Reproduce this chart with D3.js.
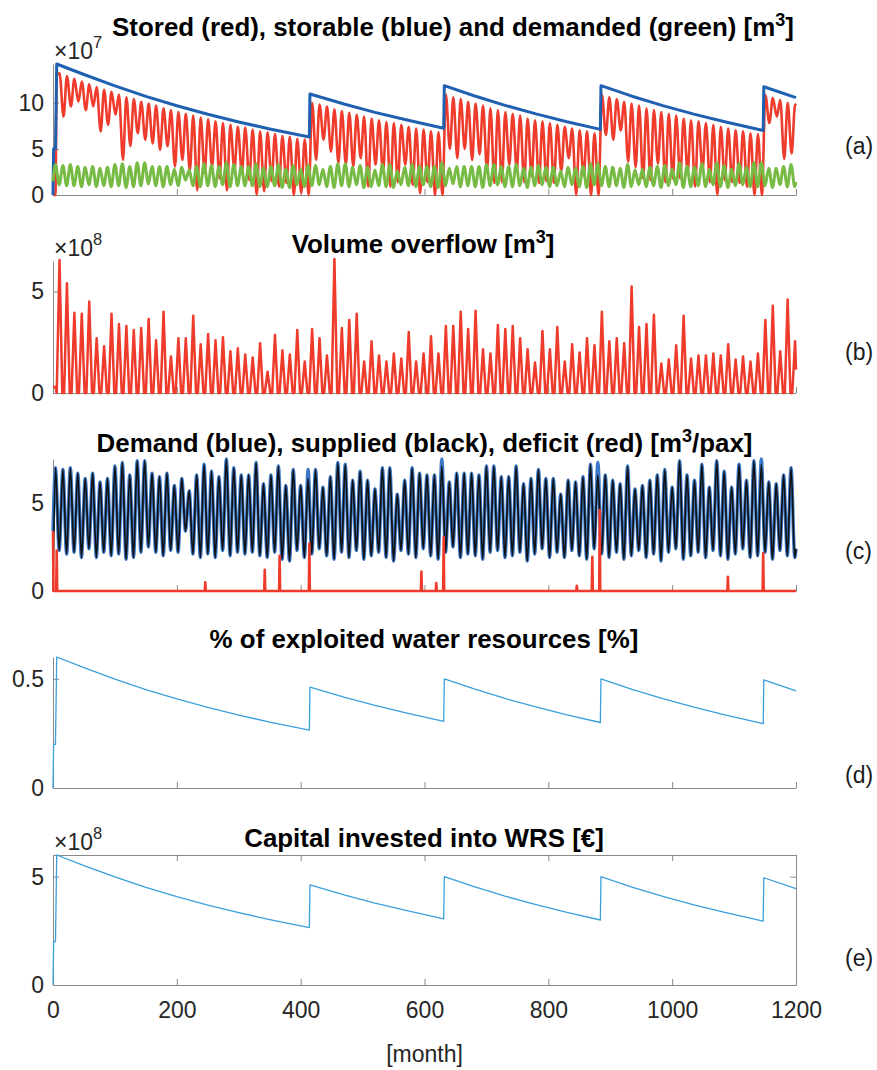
<!DOCTYPE html>
<html>
<head>
<meta charset="UTF-8">
<title>Reservoir simulation</title>
<style>
  body { margin: 0; background: #fff; }
  svg { display: block; font-family: "Liberation Sans", Arial, Helvetica, sans-serif; }
</style>
</head>
<body>
<svg></svg>
<script src="https://d3js.org/d3.v7.min.js"></script>
<script>
// ---- values (x = month 0..1200) ----
let xTicks = [0, 200, 400, 600, 800, 1000, 1200];

// (a) storable volume [1e7 m3], [month, value] break points
let storable = [[0,0],[1,5.0],[4,5.0],[6,14.2],[50,13.06],[100,11.83],[150,10.69],[200,9.67],[250,8.75],[300,7.92],[350,7.16],[414,6.28],
  [415,10.95],[470,9.86],[520,8.96],[570,8.15],[631,7.23],[632,11.85],[680,10.76],[730,9.72],[780,8.79],[830,7.94],[884,7.11],
  [885,11.85],[935,10.71],[985,9.69],[1035,8.77],[1085,7.94],[1147,6.99],[1148,11.73],[1200,10.55]];

// (a) stored volume [1e7 m3]: yearly maxima (month 10.5+12k) and minima (month 17+12k)
let storedPeaks = [13.2,12.9,12.6,12.3,12.0,11.7,11.4,11.2,10.9,10.6,10.4,10.1,9.9,9.7,9.4,9.2,9.0,8.8,8.6,8.4,8.2,8.0,7.8,7.6,7.4,7.3,7.1,6.9,6.8,6.6,6.4,6.3,6.1,6.0,
  10.0,9.8,9.6,9.3,9.1,8.9,8.7,8.5,8.3,8.1,7.9,7.8,7.6,7.4,7.2,7.1,6.9,6.8,
  10.9,10.6,10.4,10.1,9.9,9.7,9.4,9.2,9.0,8.8,8.6,8.3,8.1,8.0,7.8,7.6,7.4,7.2,7.0,6.9,6.7,
  10.9,10.6,10.4,10.1,9.9,9.7,9.4,9.2,9.0,8.8,8.6,8.3,8.1,8.0,7.8,7.6,7.4,7.2,7.0,6.9,6.7,6.6,
  10.8,10.5,10.3,10.0,9.8];
let storedTroughs = [8.5,9.6,10.1,9.2,9.6,6.9,7.6,8.7,3.8,5.3,6.7,6.0,5.6,4.9,5.3,3.1,3.8,2.7,0.5,2.4,3.1,1.8,0.5,2.7,2.4,1.6,0,0.4,1.5,0.9,1.3,0,0.2,0,
  3.8,6.0,4.7,3.5,3.3,3.1,4.0,0.9,3.3,2.4,0.9,1.4,3.3,1.1,0.2,1.4,0,0,
  5.0,4.0,5.0,3.8,4.4,2.7,1.3,1.4,3.3,2.7,1.4,2.0,1.3,1.5,1.3,2.6,4.0,0,2.1,0,0,
  6.5,6.0,7.0,3.6,3.0,1.8,1.6,3.4,1.4,1.8,1.8,2.5,0.9,2.7,1.4,0,1.6,1.4,1.3,0.9,0,0,
  7.8,8.5,3.9,4.5];
let storedStart = [[0,0],[4,0],[6,13.0]];
let storedEnd = 9.7;

// (a) demanded volume [1e7 m3]: maxima (month 4+12k) and minima (month 10+12k)
let demandedPeaks = [3.3,3.2,3.3,3.1,3.0,3.1,2.9,3.0,3.3,3.4,3.1,3.5,3.5,3.1,3.1,3.1,2.8,3.0,2.7,3.1,3.4,3.2,3.1,3.5,3.3,3.1,3.1,3.4,2.9,3.1,3.3,2.8,3.2,
  2.8,3.2,3.2,2.8,3.1,3.4,3.4,3.0,3.2,3.0,2.7,3.3,3.3,2.6,3.0,3.3,3.1,3.1,3.1,3.5,2.9,3.1,3.1,3.1,3.1,3.3,3.3,3.1,3.1,3.3,2.9,3.0,3.2,3.0,
  3.0,2.6,3.0,2.9,3.1,3.4,3.4,3.1,3.0,2.9,3.3,2.7,2.8,3.0,3.1,3.2,2.8,3.5,3.1,3.0,3.4,2.8,3.5,3.2,2.8,3.4,3.0,3.5,3.5,2.9,2.9,3.1,3.3];
let demandedTroughs = [1.1,1.0,1.0,0.9,1.1,0.9,1.0,0.9,1.0,0.8,0.9,1.0,1.2,1.0,0.9,1.1,1.0,1.6,1.0,0.9,1.0,0.9,1.1,0.9,1.0,1.0,1.0,0.9,0.9,1.0,0.8,0.8,1.1,
  0.9,1.0,1.1,0.9,0.8,1.0,0.9,1.1,0.8,0.9,1.0,0.9,0.8,1.1,1.0,0.9,1.1,0.9,0.8,1.0,1.2,0.9,1.0,0.9,0.8,1.0,1.1,0.9,0.9,1.0,0.8,1.0,1.1,0.9,
  1.0,0.9,1.1,0.9,0.8,1.1,1.0,0.9,1.0,0.8,0.9,1.1,0.9,1.0,0.8,1.0,1.1,0.8,0.9,1.0,0.9,1.1,0.9,0.8,1.0,1.1,0.9,0.9,1.0,0.8,1.1,0.9,0.9];

// (b) volume overflow [1e8 m3]: yearly spike heights (month 10.5+12k)
let overflowPeaks = [6.55,5.4,3.95,3.9,4.5,2.7,2.3,3.9,3.4,3.3,3.1,3.2,3.65,2.6,4.0,1.8,2.7,2.7,3.8,2.4,2.9,2.6,2.75,2.05,2.2,1.9,1.75,2.45,1.05,2.85,2.1,1.9,3.1,
  1.55,3.15,2.7,1.85,6.6,3.2,3.6,3.9,1.55,2.55,1.85,1.55,1.95,1.7,3.0,1.55,1.95,2.8,1.95,3.3,3.3,4.0,3.15,4.05,2.15,1.95,3.35,3.15,3.3,2.7,2.15,1.5,3.05,2.15,
  3.25,1.55,2.4,2.0,2.7,2.35,4.0,2.55,2.7,2.45,5.25,3.25,3.4,3.85,1.45,1.65,2.35,3.8,1.7,1.85,1.85,1.95,1.85,2.4,1.65,1.8,1.55,1.95,3.6,4.3,2.05,4.6,2.55];
let overflowStart = [[0,0.3],[4,0.3],[6,0]];
let overflowEnd = 1.15;

// (c) demand per capita [m3/pax]: maxima (month 4+12k) and minima (month 10+12k)
let demandPeaks = [7.0,6.9,7.0,6.7,6.4,6.7,6.2,6.4,7.1,7.3,6.6,7.4,7.4,6.7,6.5,6.7,6.0,6.4,5.7,6.6,7.2,6.8,6.5,7.5,7.0,6.6,6.6,7.3,6.1,6.6,7.1,6.0,6.9,
  6.0,6.9,6.9,5.9,6.5,7.3,7.2,6.3,6.8,6.3,5.8,7.0,7.0,5.5,6.3,7.0,6.7,6.6,6.6,7.5,6.2,6.7,6.7,6.7,6.6,7.1,7.1,6.5,6.5,7.1,6.1,6.4,6.9,6.4,
  6.4,5.5,6.3,6.2,6.5,7.2,7.3,6.6,6.3,6.1,7.1,5.8,6.0,6.3,6.6,6.9,5.9,7.4,6.6,6.3,7.2,5.9,7.4,6.8,5.9,7.2,6.3,7.4,7.5,6.2,6.1,6.6,7.0];
let demandTroughs = [2.3,2.1,2.2,1.9,2.4,1.9,2.2,2.0,2.1,1.8,1.9,2.2,2.5,2.2,2.0,2.3,2.2,3.4,2.1,1.9,2.1,1.9,2.3,2.0,2.2,2.1,2.2,2.0,1.9,2.2,1.8,1.7,2.3,
  1.9,2.1,2.4,2.0,1.8,2.2,1.9,2.3,1.8,2.0,2.2,1.9,1.7,2.3,2.1,1.9,2.4,2.0,1.8,2.2,2.5,1.9,2.1,2.0,1.8,2.2,2.3,1.9,2.0,2.2,1.7,2.1,2.4,1.9,
  2.2,1.9,2.3,2.0,1.8,2.4,2.1,1.9,2.2,1.8,2.0,2.3,1.9,2.1,1.7,2.2,2.4,1.8,2.0,2.2,1.9,2.3,2.0,1.8,2.1,2.4,1.9,2.0,2.2,1.8,2.3,2.0,1.9];
let demandStart = 3.4, demandEnd = 2.4;
// supplied peak shortfalls [year index, amount]
let suppliedCuts = [[34,0.5],[52,0.4],[73,0.7],[95,0.3]];
// (c) deficit spikes [month, m3/pax]
let deficit = [[0,3.4],[6,2.3],[246,0.5],[342,1.2],[366,2.0],[414,2.7],[595,1.1],[619,0.45],[631,3.05],[846,0.3],[871,1.95],[883,4.6],[1090,0.8],[1147,2.15]];

// (d) exploited water resources [%]
let exploited = [[0,0],[1,0.2],[4,0.2],[6,0.6],[50,0.551],[100,0.499],[150,0.451],[200,0.408],[250,0.369],[300,0.334],[350,0.302],[414,0.265],
  [415,0.462],[470,0.416],[520,0.378],[570,0.344],[631,0.305],[632,0.5],[680,0.454],[730,0.41],[780,0.371],[830,0.335],[884,0.30],
  [885,0.5],[935,0.452],[985,0.409],[1035,0.37],[1085,0.335],[1147,0.295],[1148,0.495],[1200,0.445]];

// (e) capital invested [1e8 EUR]
let capital = [[0,0],[1,2.0],[4,2.0],[6,6.0],[50,5.51],[100,4.99],[150,4.51],[200,4.08],[250,3.69],[300,3.34],[350,3.02],[414,2.65],
  [415,4.62],[470,4.16],[520,3.78],[570,3.44],[631,3.05],[632,5.0],[680,4.54],[730,4.1],[780,3.71],[830,3.35],[884,3.0],
  [885,5.0],[935,4.52],[985,4.09],[1035,3.7],[1085,3.35],[1147,2.95],[1148,4.95],[1200,4.45]];

// ---- build point lists from the yearly extremes ----
function alternating(start, peaks, peakAt, troughs, troughAt, endValue) {
  let pts = start.slice();
  peaks.forEach((p, k) => {
    pts.push([peakAt + 12 * k, p]);
    if (k < troughs.length && troughAt + 12 * k < 1200) pts.push([troughAt + 12 * k, troughs[k]]);
  });
  pts.push([1200, endValue]);
  return pts.sort((a, b) => a[0] - b[0]);
}

let storedPts = alternating(storedStart, storedPeaks, 10.5, storedTroughs, 17, storedEnd);
let demandedPts = alternating([[0, 1.5]], demandedPeaks, 4, demandedTroughs, 10, 1.4);
let demandPts = alternating([[0, demandStart]], demandPeaks, 4, demandTroughs, 10, demandEnd);
let cutPeaks = demandPeaks.slice();
suppliedCuts.forEach(c => { cutPeaks[c[0]] -= c[1]; });
let suppliedPts = alternating([[0, 0]], cutPeaks, 4, demandTroughs, 10, demandEnd);

let overflowPts = overflowStart.slice();
overflowPeaks.forEach((p, k) => {
  overflowPts.push([10.5 + 12 * k, p]);
  if (k < overflowPeaks.length - 1) {
    overflowPts.push([15 + 12 * k, 0]);
    overflowPts.push([18 + 12 * k, 0]);
  }
});
overflowPts.push([1200, overflowEnd]);

let deficitPts = [];
deficit.forEach(d => {
  if (d[0] > 0) deficitPts.push([d[0] - 0.8, 0]);
  deficitPts.push(d);
  deficitPts.push([d[0] + 0.8, 0]);
});
if (deficit[0][0] > 0) deficitPts.unshift([0, 0]);
deficitPts.push([1200, 0]);

// ---- layout ----
let width = 877, height = 1070;
let svg = d3.select("svg").attr("width", width).attr("height", height);
let x = d3.scaleLinear().domain([0, 1200]).range([53, 796]);

let panels = [
  {key: "a", top: 64, bottom: 195, ymax: 14.2, yticks: [0, 5, 10], exponent: "7",
   title: ["Stored (red), storable (blue) and demanded (green) [m", "3", "]"], tx: 453, ty: 36, ly: 146},
  {key: "b", top: 261, bottom: 393, ymax: 6.5, yticks: [0, 5], exponent: "8",
   title: ["Volume overflow [m", "3", "]"], tx: 423, ty: 252.5, ly: 352},
  {key: "c", top: 459, bottom: 591, ymax: 7.5, yticks: [0, 5], exponent: null,
   title: ["Demand (blue), supplied (black), deficit (red) [m", "3", "/pax]"], tx: 424.5, ty: 451.5, ly: 551},
  {key: "d", top: 657, bottom: 788, ymax: 0.6, yticks: [0, 0.5], exponent: null,
   title: ["% of exploited water resources [%]"], tx: 424, ty: 648, ly: 775},
  {key: "e", top: 855, bottom: 985, ymax: 6, yticks: [0, 5], exponent: "8",
   title: ["Capital invested into WRS [€]"], tx: 424, ty: 846.5, ly: 958, box: true}
];

let axisColor = "#8a8a8a", textColor = "#262626";

function styleAxis(g) {
  g.attr("font-family", null).attr("font-size", null);
  g.selectAll("path, line").attr("stroke", axisColor);
  g.selectAll("text").attr("fill", textColor).style("font-size", "23px");
}

panels.forEach(p => {
  p.y = d3.scaleLinear().domain([0, p.ymax]).range([p.bottom, p.top]);

  svg.append("g")
    .attr("transform", "translate(53,0)")
    .call(d3.axisLeft(p.y).tickValues(p.yticks).tickSize(-6).tickSizeOuter(0).tickPadding(9).tickFormat(d => String(d)))
    .call(styleAxis);

  svg.append("g")
    .attr("transform", "translate(0," + p.bottom + ")")
    .call(d3.axisBottom(x).tickValues(xTicks).tickSize(-6).tickSizeOuter(0).tickPadding(17)
      .tickFormat(p.box ? d3.format("d") : ""))
    .call(styleAxis);

  if (p.box) {
    svg.append("g")
      .attr("transform", "translate(0," + p.top + ")")
      .call(d3.axisTop(x).tickValues(xTicks).tickSize(-6).tickSizeOuter(0).tickFormat(""))
      .call(styleAxis);
    svg.append("g")
      .attr("transform", "translate(796,0)")
      .call(d3.axisRight(p.y).tickValues(p.yticks).tickSize(-6).tickSizeOuter(0).tickFormat(""))
      .call(styleAxis);
  }

  // title
  let t = svg.append("text")
    .attr("x", p.tx).attr("y", p.ty)
    .attr("text-anchor", "middle")
    .style("font-size", "25.9px").style("font-weight", "bold").attr("fill", "#000");
  p.title.forEach((s, i) => {
    let sp = t.append("tspan").text(s);
    if (i % 2 == 1) sp.attr("dy", -10).style("font-size", "18px");
    else if (i > 0) sp.attr("dy", 10);
  });

  // exponent
  if (p.exponent) {
    let e = svg.append("text").attr("x", 54).attr("y", p.top - 5)
      .attr("fill", textColor).style("font-size", "23px");
    e.append("tspan").text("\u00d710");
    e.append("tspan").text(p.exponent).attr("dy", -11).style("font-size", "16.5px");
  }

  // panel label
  svg.append("text").attr("x", 845).attr("y", p.ly).attr("dy", "0.35em")
    .attr("fill", "#1a1a1a").style("font-size", "23px").text("(" + p.key + ")");
});

function drawLine(p, pts, color, w, curve) {
  svg.append("path")
    .datum(pts)
    .attr("fill", "none")
    .attr("stroke", color)
    .attr("stroke-width", w)
    .attr("stroke-linejoin", "round")
    .attr("d", d3.line().x(d => x(d[0])).y(d => p.y(d[1])).curve(curve || d3.curveLinear));
}

let P = {};
panels.forEach(p => { P[p.key] = p; });

drawLine(P.a, storedPts, "#ee3b2b", 2.6, d3.curveMonotoneX);
drawLine(P.a, storable, "#2060b0", 3);
drawLine(P.a, demandedPts, "#77bb45", 3, d3.curveMonotoneX);

drawLine(P.b, overflowPts, "#ee3b2b", 2.5);

drawLine(P.c, demandPts, "#3b78c8", 3.4, d3.curveMonotoneX);
drawLine(P.c, suppliedPts, "#111111", 1.7, d3.curveMonotoneX);
drawLine(P.c, deficitPts, "#ee3b2b", 2.6);

drawLine(P.d, exploited, "#3a9fdc", 1.3);
drawLine(P.e, capital, "#3a9fdc", 1.3);

svg.append("text").attr("x", 424.5).attr("y", 1062).attr("text-anchor", "middle")
  .attr("fill", textColor).style("font-size", "23px").text("[month]");
</script>
</body>
</html>
